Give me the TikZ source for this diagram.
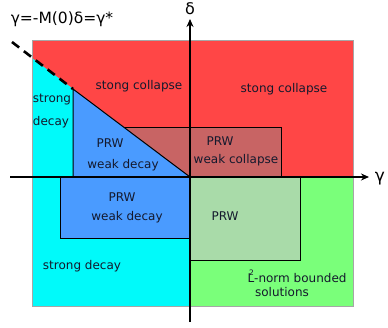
\documentclass[tikz,border=0pt]{standalone}
\usepackage{fontspec}
\setmainfont{DejaVu Sans}
\usetikzlibrary{arrows.meta}
\definecolor{cred}{RGB}{255,70,70}
\definecolor{ccyan}{RGB}{0,250,250}
\definecolor{cblue}{RGB}{74,155,255}
\definecolor{cbrown}{RGB}{200,100,100}
\definecolor{cgreen}{RGB}{122,255,122}
\definecolor{cpgreen}{RGB}{169,219,169}
\definecolor{ctext}{RGB}{20,25,45}
\tikzset{
  box/.style={draw=black,line width=1pt},
  lbl/.style={font=\fontsize{12}{14}\selectfont,text=ctext,inner sep=0pt,align=center},
  axis/.style={line width=1.4pt,-{Stealth[length=8pt,width=7pt]}}
}
\begin{document}
\begin{tikzpicture}[x=1pt,y=-1pt]
\useasboundingbox (0,0) rectangle (388,327);
% regions
\fill[cred] (32,40) rectangle (353,177);
\fill[ccyan] (32,58) -- (190,177) -- (190,306) -- (32,306) -- cycle;
\fill[cgreen] (190,177) rectangle (353,306);
\draw[gray!70,line width=0.6pt] (32,40) rectangle (353,306);
% brown PRW weak collapse
\fill[cbrown] (124,127) -- (281,127) -- (281,177) -- (190,177) -- cycle;
\draw[box] (124,127) -- (281,127) -- (281,177);
% blue triangle
\fill[cblue] (73,89) -- (190,177) -- (73,177) -- cycle;
\draw[box] (73,177) -- (73,89) -- (190,177);
% lower blue rect
\draw[box,fill=cblue] (60,177) rectangle (190,238);
% green PRW rect
\draw[box,fill=cpgreen] (190,177) rectangle (300,260);
% dashed boundary line
\coordinate (d0) at (12,42);
\coordinate (d1) at (73,89);
\draw[line width=2.6pt,dash pattern=on 9pt off 6pt] (d0) -- (d1);
% axes
\coordinate (xs) at (10,177);
\coordinate (xe) at (369,177);
\coordinate (ys) at (190,322);
\coordinate (ye) at (190,19);
\draw[axis] (xs) -- (xe);
\draw[axis] (ys) -- (ye);
\node[font=\fontsize{17}{19}\selectfont,inner sep=0pt] (gl) at (380,179) {γ};
\node[font=\fontsize{16}{18}\selectfont,inner sep=0pt] (dl) at (190,9) {δ};
\node[font=\fontsize{15.5}{18}\selectfont,inner sep=0pt] (title) at (62,19) {γ=-M(0)δ=γ*};
% labels
\node[lbl] (sc1) at (139,86) {stong collapse};
\node[lbl] (sc2) at (284,89) {stong collapse};
\node[lbl] (sd1) at (52,100) {strong};
\node[lbl] (sd2) at (51,122) {decay};
\node[lbl] (p1) at (110,143) {PRW};
\node[lbl] (w1) at (123,165) {weak decay};
\node[lbl] (p2) at (220,141) {PRW};
\node[lbl] (w2) at (236,160) {weak collapse};
\node[lbl] (p3) at (122,197) {PRW};
\node[lbl] (w3) at (127,217) {weak decay};
\node[lbl] (sd3) at (82,266) {strong decay};
\node[lbl] (p4) at (225,216) {PRW};
\node[lbl] (l2) at (297,276) {L\llap{\raisebox{1.05ex}{\fontsize{7.5}{8}\selectfont 2\kern0.3pt}}-norm bounded};
\node[lbl] (sol) at (282,292) {solutions};
\end{tikzpicture}
\end{document}
